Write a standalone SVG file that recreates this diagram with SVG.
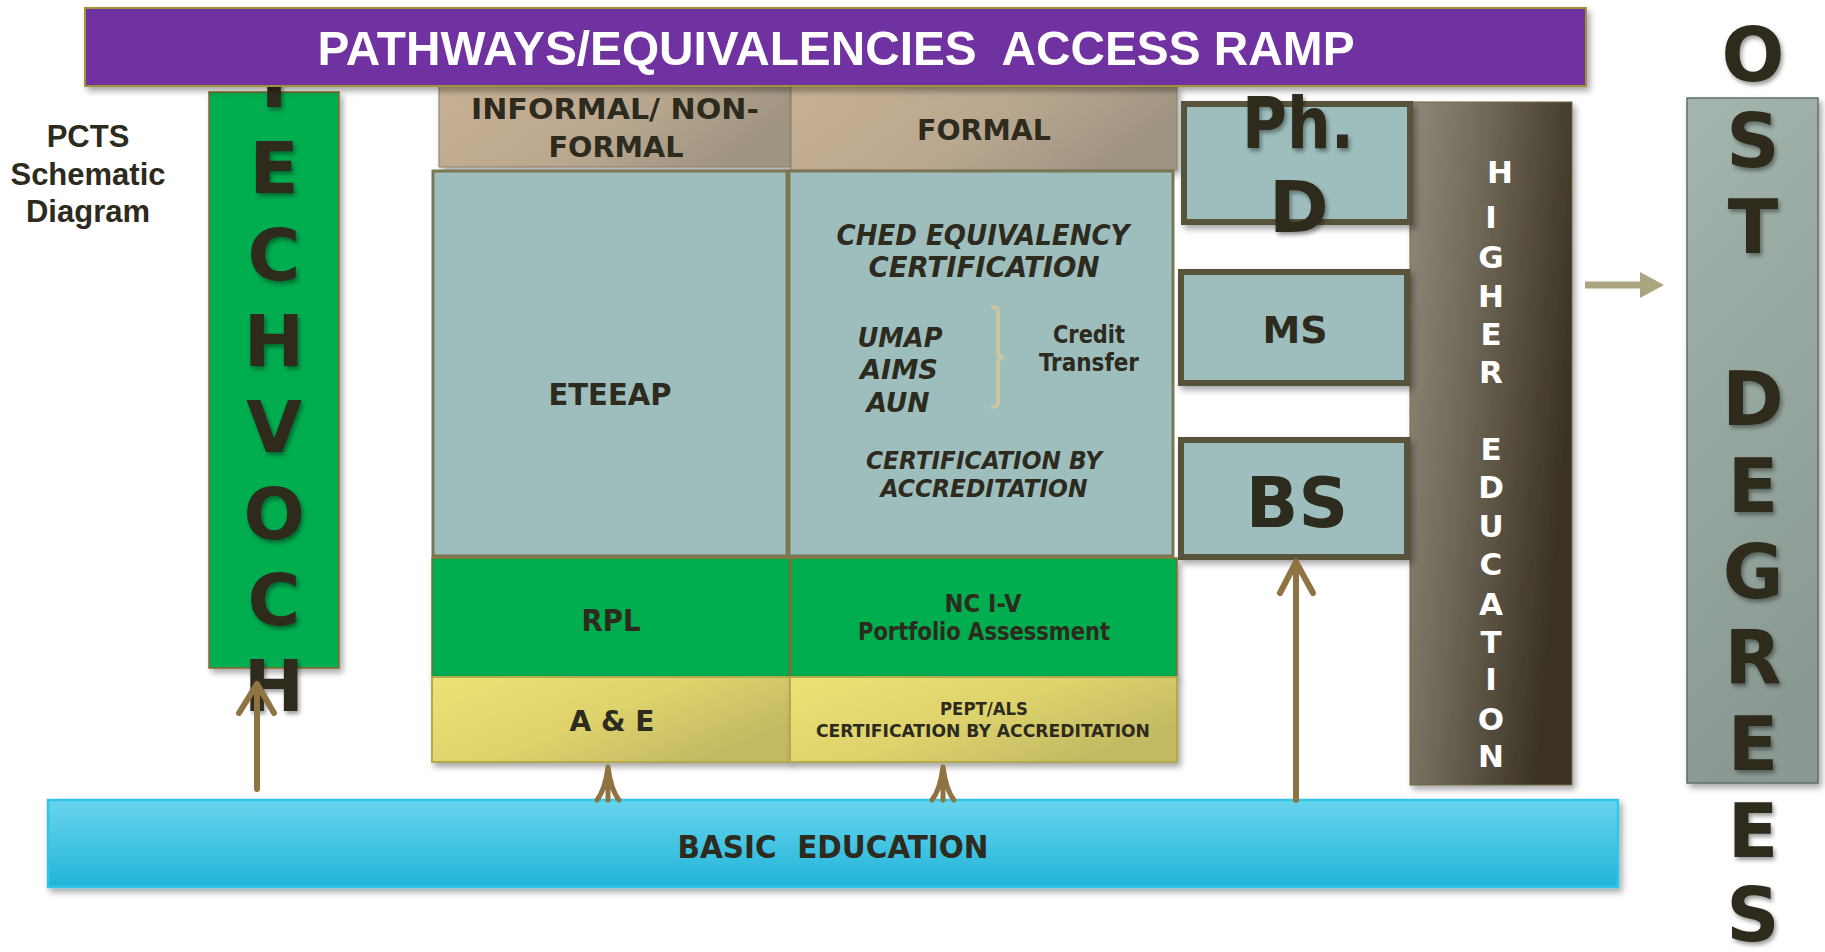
<svg xmlns="http://www.w3.org/2000/svg" width="1825" height="952" viewBox="0 0 1825 952">
<defs>
<style>
.lbl{font-family:'DejaVu Sans Condensed','DejaVu Sans',sans-serif;font-stretch:condensed;font-weight:bold;fill:#2D2A1E;text-anchor:middle}
.it{font-style:italic}
.big{font-family:'DejaVu Sans',sans-serif;font-weight:bold;fill:#2D2A1E;text-anchor:middle}
.wh{font-family:'DejaVu Sans',sans-serif;font-weight:bold;fill:#FFFFFF;text-anchor:middle}
.teal{fill:#9DBEBD;stroke:#7B7655;stroke-width:3}
.deg{fill:#9DBEBD;stroke:#58533A;stroke-width:6}
.grn{fill:#00AD4F;stroke:#8A6A2C;stroke-width:1.5}
.arr{fill:none;stroke:#8F7342;stroke-width:6;stroke-linecap:round;stroke-linejoin:round}
</style>
<filter id="sh" x="-10%" y="-10%" width="130%" height="130%"><feDropShadow dx="3" dy="4" stdDeviation="3" flood-color="#000" flood-opacity="0.35"/></filter>
<filter id="tsh" x="-20%" y="-20%" width="140%" height="140%"><feDropShadow dx="2" dy="3" stdDeviation="2" flood-color="#000" flood-opacity="0.4"/></filter>
<linearGradient id="tan" x1="0" y1="0" x2="1" y2="0.3"><stop offset="0" stop-color="#C8B094"/><stop offset="0.6" stop-color="#B8A78E"/><stop offset="1" stop-color="#A09482"/></linearGradient>
<linearGradient id="yel" x1="0" y1="0" x2="1" y2="0.6"><stop offset="0" stop-color="#ECE274"/><stop offset="0.55" stop-color="#DDD26C"/><stop offset="1" stop-color="#C3B962"/></linearGradient>
<linearGradient id="hig" x1="0" y1="0" x2="1" y2="0.35"><stop offset="0" stop-color="#918979"/><stop offset="0.45" stop-color="#6E6656"/><stop offset="1" stop-color="#3B3324"/></linearGradient>
<linearGradient id="pst" x1="0" y1="0" x2="0.2" y2="1"><stop offset="0" stop-color="#A3B5AD"/><stop offset="1" stop-color="#8A9A92"/></linearGradient>
<linearGradient id="blu" x1="0" y1="0" x2="0" y2="1"><stop offset="0" stop-color="#68D5EE"/><stop offset="1" stop-color="#21B4D8"/></linearGradient>
</defs>
<rect width="1825" height="952" fill="#FFFFFF"/>

<g id="pcts-title">
<text x="88" y="147" style="font-family:'Liberation Sans',Arial,sans-serif;font-weight:bold;font-size:31px;fill:#2D2A1E;text-anchor:middle">PCTS</text>
<text x="88" y="185" style="font-family:'Liberation Sans',Arial,sans-serif;font-weight:bold;font-size:31px;fill:#2D2A1E;text-anchor:middle">Schematic</text>
<text x="88" y="222" style="font-family:'Liberation Sans',Arial,sans-serif;font-weight:bold;font-size:31px;fill:#2D2A1E;text-anchor:middle">Diagram</text>
</g>

<g id="techvoc">
<rect x="209" y="92" width="130" height="576" fill="#00AD4F" stroke="#8A6A2C" stroke-width="1.5" filter="url(#sh)"/>
<text class="big" style="font-size:72px" filter="url(#tsh)"><tspan x="274" y="107">T</tspan><tspan x="274" y="193">E</tspan><tspan x="274" y="280">C</tspan><tspan x="274" y="366">H</tspan><tspan x="274" y="452">V</tspan><tspan x="274" y="539">O</tspan><tspan x="274" y="625">C</tspan><tspan x="274" y="711">H</tspan></text>
</g>

<g id="informal-header">
<rect x="439" y="86" width="352" height="81" fill="url(#tan)" stroke="#8C7E68" stroke-width="1" filter="url(#sh)"/>
<text class="lbl" x="615" y="119" style="font-size:28px" textLength="288" lengthAdjust="spacingAndGlyphs">INFORMAL/ NON-</text>
<text class="lbl" x="616" y="157" style="font-size:28px" textLength="135" lengthAdjust="spacingAndGlyphs">FORMAL</text>
</g>

<g id="formal-header">
<rect x="791" y="86" width="386" height="84" fill="url(#tan)" stroke="#8C7E68" stroke-width="1" filter="url(#sh)"/>
<text class="lbl" x="984" y="140" style="font-size:28px" textLength="134" lengthAdjust="spacingAndGlyphs">FORMAL</text>
</g>

<g id="banner">
<rect x="85" y="8" width="1501" height="78" fill="#7030A0" stroke="#A09438" stroke-width="2" filter="url(#sh)"/>
<text x="836" y="65" xml:space="preserve" style="font-family:'Liberation Sans',Arial,sans-serif;font-weight:bold;font-size:49px;fill:#FFFFFF;text-anchor:middle" textLength="1037" lengthAdjust="spacingAndGlyphs">PATHWAYS/EQUIVALENCIES  ACCESS RAMP</text>
</g>

<g id="eteeap">
<rect x="433" y="171" width="354" height="385" class="teal"/>
<text class="lbl" x="610" y="405" style="font-size:31px" textLength="123" lengthAdjust="spacingAndGlyphs">ETEEAP</text>
</g>

<g id="ched">
<rect x="789" y="171" width="384" height="385" class="teal"/>
<text class="lbl it" x="983" y="245" style="font-size:28px" textLength="293" lengthAdjust="spacingAndGlyphs">CHED EQUIVALENCY</text>
<text class="lbl it" x="984" y="277" style="font-size:28px" textLength="231" lengthAdjust="spacingAndGlyphs">CERTIFICATION</text>
<text class="lbl it" x="900" y="347" style="font-size:27px" textLength="85" lengthAdjust="spacingAndGlyphs">UMAP</text>
<text class="lbl it" x="899" y="379" style="font-size:27px" textLength="78" lengthAdjust="spacingAndGlyphs">AIMS</text>
<text class="lbl it" x="898" y="412" style="font-size:27px" textLength="63" lengthAdjust="spacingAndGlyphs">AUN</text>
<path d="M993,307 Q998,307 998,312 L998,352 Q998,357 1004,357 Q998,357 998,362 L998,402 Q998,407 993,407" fill="none" stroke="#CBC6A2" stroke-width="4" stroke-linecap="round"/>
<text class="lbl" x="1089" y="343" style="font-size:25px" textLength="72" lengthAdjust="spacingAndGlyphs">Credit</text>
<text class="lbl" x="1089" y="371" style="font-size:25px" textLength="100" lengthAdjust="spacingAndGlyphs">Transfer</text>
<text class="lbl it" x="984" y="469" style="font-size:25px" textLength="236" lengthAdjust="spacingAndGlyphs">CERTIFICATION BY</text>
<text class="lbl it" x="984" y="497" style="font-size:25px" textLength="207" lengthAdjust="spacingAndGlyphs">ACCREDITATION</text>
</g>

<g id="rpl">
<rect x="432" y="558" width="358" height="119" class="grn" filter="url(#sh)"/>
<text class="lbl" x="611" y="631" style="font-size:31px" textLength="59" lengthAdjust="spacingAndGlyphs">RPL</text>
</g>

<g id="nc">
<rect x="791" y="558" width="386" height="119" class="grn" filter="url(#sh)"/>
<text class="lbl" x="983" y="612" style="font-size:24px" textLength="77" lengthAdjust="spacingAndGlyphs">NC I-V</text>
<text class="lbl" x="984" y="640" style="font-size:24px" textLength="252" lengthAdjust="spacingAndGlyphs">Portfolio Assessment</text>
</g>

<g id="ae">
<rect x="432" y="677" width="358" height="85" fill="url(#yel)" stroke="#B3AA4E" stroke-width="2" filter="url(#sh)"/>
<text class="lbl" x="612" y="731" style="font-size:29px" textLength="85" lengthAdjust="spacingAndGlyphs">A &amp; E</text>
</g>

<g id="pept">
<rect x="790" y="677" width="387" height="85" fill="url(#yel)" stroke="#B3AA4E" stroke-width="2" filter="url(#sh)"/>
<text class="lbl" x="984" y="715" style="font-size:18px" textLength="88" lengthAdjust="spacingAndGlyphs">PEPT/ALS</text>
<text class="lbl" x="983" y="737" style="font-size:18px" textLength="334" lengthAdjust="spacingAndGlyphs">CERTIFICATION BY ACCREDITATION</text>
</g>

<g id="higher-education">
<rect x="1410" y="102" width="162" height="683" fill="url(#hig)" stroke="#6E6A48" stroke-width="1" filter="url(#sh)"/>
<text class="wh" style="font-size:31px"><tspan x="1500" y="183">H</tspan><tspan x="1491" y="228">I</tspan><tspan x="1491" y="268">G</tspan><tspan x="1491" y="307">H</tspan><tspan x="1491" y="345">E</tspan><tspan x="1491" y="383">R</tspan><tspan x="1491" y="460">E</tspan><tspan x="1491" y="498">D</tspan><tspan x="1491" y="537">U</tspan><tspan x="1491" y="575">C</tspan><tspan x="1491" y="615">A</tspan><tspan x="1491" y="653">T</tspan><tspan x="1491" y="690">I</tspan><tspan x="1491" y="730">O</tspan><tspan x="1491" y="767">N</tspan></text>
</g>

<g id="phd">
<rect x="1184" y="104" width="226" height="118" class="deg" filter="url(#sh)"/>
<text class="big" style="font-size:72px" filter="url(#tsh)"><tspan x="1298" y="148" textLength="112" lengthAdjust="spacingAndGlyphs">Ph.</tspan><tspan x="1299" y="232">D</tspan></text>
</g>

<g id="ms">
<rect x="1181" y="272" width="226" height="111" class="deg" filter="url(#sh)"/>
<text class="big" x="1295" y="343" style="font-size:38px">MS</text>
</g>

<g id="bs">
<rect x="1181" y="440" width="226" height="117" class="deg" filter="url(#sh)"/>
<text class="big" x="1297" y="527" style="font-size:69px">BS</text>
</g>

<g id="post-degrees">
<rect x="1687" y="98" width="131" height="685" fill="url(#pst)" stroke="#5F6F67" stroke-width="1.5" filter="url(#sh)"/>
<text class="big" style="font-size:74px" filter="url(#tsh)"><tspan x="1753" y="81">O</tspan><tspan x="1753" y="167">S</tspan><tspan x="1753" y="253">T</tspan><tspan x="1753" y="425">D</tspan><tspan x="1753" y="512">E</tspan><tspan x="1753" y="598">G</tspan><tspan x="1753" y="684">R</tspan><tspan x="1753" y="770">E</tspan><tspan x="1753" y="857">E</tspan><tspan x="1753" y="941">S</tspan></text>
</g>

<g id="basic-education">
<rect x="48" y="800" width="1570" height="87" fill="url(#blu)" stroke="#33C5E6" stroke-width="2.5" filter="url(#sh)"/>
<text class="lbl" x="833" y="858" xml:space="preserve" style="font-size:32px" textLength="311" lengthAdjust="spacingAndGlyphs">BASIC  EDUCATION</text>
</g>

<g id="connectors">
<path class="arr" d="M257,789 L257,684 M239,713 L257,684 L274,713"/>
<path class="arr" d="M1296,800 L1296,562 M1280,593 L1296,562 L1313,593"/>
<path class="arr" style="stroke-width:5" d="M608,800 L608,768 M608,767 Q605,790 597,800 M608,767 Q611,790 619,800"/>
<path class="arr" style="stroke-width:5" d="M943,800 L943,768 M943,767 Q940,790 932,800 M943,767 Q946,790 954,800"/>
<line x1="1585" y1="285" x2="1641" y2="285" stroke="#A9A57E" stroke-width="7"/>
<polygon points="1640,272 1664,285 1640,298" fill="#A9A57E"/>
</g>
</svg>
